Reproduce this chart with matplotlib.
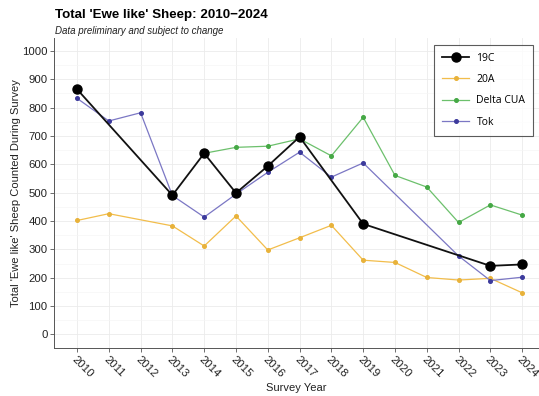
import matplotlib
matplotlib.use("Agg")
import matplotlib.pyplot as plt
from matplotlib.ticker import MultipleLocator

plt.rcParams['font.family'] = ['Liberation Sans', 'DejaVu Sans']

# survey counts (None = no survey that year)
years = list(range(2010, 2025))
c19 = [865, None, None, 491, 639, 499, 594, 697, None, 390, None, None, None, 242, 247]
a20 = [402, 426, None, 383, 312, 418, 298, 341, 385, 262, 254, 201, 192, 198, 147]
delta_cua = [None, None, None, None, 639, 660, 664, 690, 630, 766, 561, 520, 395, 457, 421]
tok = [833, 753, 782, 490, 414, 495, 572, 643, 555, 605, None, None, 277, 190, 202]

ytick_vals = list(range(0, 1001, 100))


def pts(vals):
    xs = [y for y, v in zip(years, vals) if v is not None]
    ys = [v for v in vals if v is not None]
    return xs, ys


fig = plt.figure(figsize=(5.39, 3.96), dpi=100)
ax = fig.add_axes([0.101, 0.121, 0.899, 0.784])

x, y = pts(a20)
ax.plot(x, y, color='#f2bd4b', lw=0.9, marker='o', ms=2.6, mfc='#e8b23a', mec='#e8b23a', label='20A', zorder=3)
x, y = pts(delta_cua)
ax.plot(x, y, color='#6cc06c', lw=0.9, marker='o', ms=2.6, mfc='#45a845', mec='#45a845', label='Delta CUA', zorder=3)
x, y = pts(tok)
ax.plot(x, y, color='#7b77c4', lw=0.9, marker='o', ms=2.6, mfc='#3c3a9c', mec='#3c3a9c', label='Tok', zorder=4)
x, y = pts(c19)
ax.plot(x, y, color='#111111', lw=1.3, marker='o', ms=6.5, mfc='black', mec='black', label='19C', zorder=5)

ax.set_xlim(2009.29, 2024.53)
ax.set_ylim(-48, 1047)
ax.set_xticks(years)
ax.set_xticklabels([str(y) for y in years], rotation=-45, ha='left', va='top',
                   rotation_mode='anchor', fontsize=8.2, color='#222222')
ax.set_yticks(ytick_vals)
ax.set_yticklabels([str(v) for v in ytick_vals], fontsize=8.2, color='#222222')
ax.yaxis.set_minor_locator(MultipleLocator(50))
ax.tick_params(axis='both', length=3, width=0.6, color='#555555', pad=2)
ax.tick_params(axis='y', which='minor', length=0)
ax.tick_params(axis='x', pad=1.5)

ax.grid(True, which='major', color='#ebebeb', lw=0.6)
ax.grid(True, which='minor', axis='y', color='#f5f5f5', lw=0.5)
ax.set_axisbelow(True)
for s in ['top', 'right']:
    ax.spines[s].set_visible(False)
for s in ['left', 'bottom']:
    ax.spines[s].set_color('#555555')
    ax.spines[s].set_linewidth(0.7)

ax.set_xlabel('Survey Year', fontsize=8, color='#222222')
ax.set_ylabel("Total 'Ewe like' Sheep Counted During Survey", fontsize=8, color='#222222')
ax.xaxis.set_label_coords(0.5, -0.112)
ax.yaxis.set_label_coords(-0.069, 0.5)

fig.text(0.102, 0.963, "Total 'Ewe like' Sheep: 2010\u22122024", fontsize=9.6,
         fontweight='bold', ha='left', va='center')
fig.text(0.102, 0.921, "Data preliminary and subject to change", fontsize=7,
         style='italic', ha='left', va='center', color='#222222')

handles, labels = ax.get_legend_handles_labels()
order = [3, 0, 1, 2]
leg = ax.legend([handles[i] for i in order], [labels[i] for i in order],
                loc='upper right', bbox_to_anchor=(0.988, 0.977),
                frameon=True, fancybox=False, edgecolor='#333333',
                handlelength=2.6, labelspacing=1.0, borderpad=0.75, handletextpad=0.7,
                borderaxespad=0, prop={'family': 'Open Sans', 'size': 7.5})
leg.get_frame().set_linewidth(0.8)

fig.savefig('out.png', dpi=100)
